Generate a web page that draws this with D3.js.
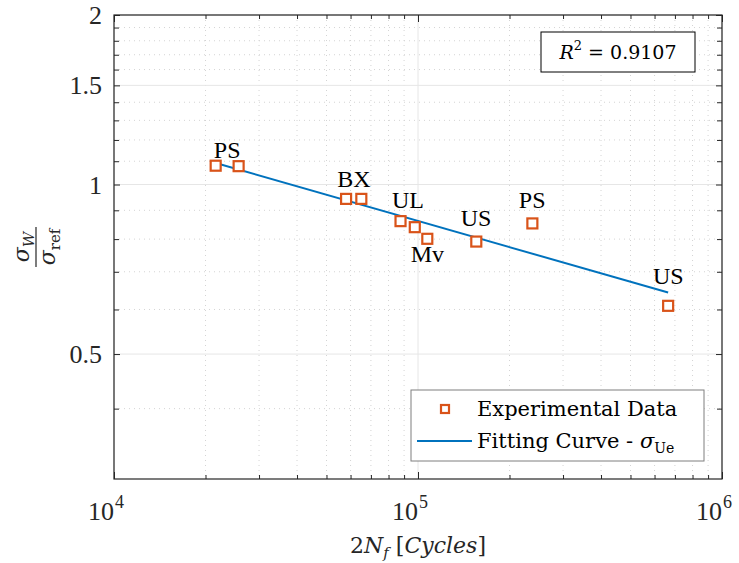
<!DOCTYPE html>
<html>
<head>
<meta charset="utf-8">
<script src="https://cdn.jsdelivr.net/npm/d3@7"></script>
<style>
  body { margin: 0; background: #fff; }
  svg { display: block; }
  text { font-family: "Liberation Serif", serif; fill: #262626; }
  .math { font-family: "DejaVu Serif", serif; }
</style>
</head>
<body>
<svg id="chart"></svg>
<script>
// experimental points
const cycles = [21600, 25700, 58000, 65100, 87600, 97600, 107300, 155500, 237800, 665000];
const ratio = [1.080, 1.078, 0.943, 0.943, 0.861, 0.840, 0.801, 0.792, 0.853, 0.609];

// fitted power law, read at its two ends
const fitCycles = [21600, 665000];
const fitRatio = [1.092, 0.643];

// point annotations
const noteText = ["PS", "BX", "UL", "Mv", "US", "PS", "US"];
const noteCycles = [23570, 61500, 92700, 107400, 155300, 237500, 666000];
const noteRatio = [1.116, 0.988, 0.910, 0.728, 0.843, 0.907, 0.665];

// ticks
const xMajor = [1e4, 1e5, 1e6];
const xMajorExp = ["4", "5", "6"];
const xMinor = [2e4, 3e4, 4e4, 5e4, 6e4, 7e4, 8e4, 9e4, 2e5, 3e5, 4e5, 5e5, 6e5, 7e5, 8e5, 9e5];
const yMajor = [0.5, 1, 1.5, 2];
const yMajorLabels = ["0.5", "1", "1.5", "2"];
const yMinor = [0.4, 0.6, 0.7, 0.8, 0.9, 1.1, 1.2, 1.3, 1.4, 1.6, 1.7, 1.8, 1.9];

const rSquared = "0.9107";

const W = 739, H = 563;
const margin = { top: 15, right: 17, bottom: 84, left: 114 };
const width = W - margin.left - margin.right;
const height = H - margin.top - margin.bottom;

const svg = d3.select("#chart").attr("width", W).attr("height", H);
const g = svg.append("g").attr("transform", `translate(${margin.left},${margin.top})`);

const x = d3.scaleLog().domain([1e4, 1e6]).range([0, width]);
const y = d3.scaleLog().domain([0.3, 2]).range([height, 0]);

// grid - minor dotted first, then major solid
g.append("g").selectAll("line").data(xMinor).join("line")
  .attr("x1", d => x(d)).attr("x2", d => x(d)).attr("y1", 0).attr("y2", height)
  .attr("stroke", "#d4d4d4").attr("stroke-dasharray", "1,4");
g.append("g").selectAll("line").data(yMinor).join("line")
  .attr("y1", d => y(d)).attr("y2", d => y(d)).attr("x1", 0).attr("x2", width)
  .attr("stroke", "#d4d4d4").attr("stroke-dasharray", "1,4");
g.append("g").selectAll("line").data(xMajor).join("line")
  .attr("x1", d => x(d)).attr("x2", d => x(d)).attr("y1", 0).attr("y2", height)
  .attr("stroke", "#e6e6e6");
g.append("g").selectAll("line").data(yMajor).join("line")
  .attr("y1", d => y(d)).attr("y2", d => y(d)).attr("x1", 0).attr("x2", width)
  .attr("stroke", "#e6e6e6");

// axes with inward ticks on all sides
const axisCol = "#262626";
function ticks(axis, vals, size) {
  return axis.tickValues(vals).tickSize(size).tickFormat("");
}
const xAxes = [
  [d3.axisTop, height, xMajor, 7], [d3.axisTop, height, xMinor, 4],
  [d3.axisBottom, 0, xMajor, 7], [d3.axisBottom, 0, xMinor, 4]
];
xAxes.forEach(([fn, ty, vals, s]) => {
  g.append("g").attr("transform", `translate(0,${ty})`).call(ticks(fn(x), vals, s));
});
const yAxes = [
  [d3.axisRight, 0, yMajor, 6], [d3.axisRight, 0, yMinor, 5],
  [d3.axisLeft, width, yMajor, 6], [d3.axisLeft, width, yMinor, 5]
];
yAxes.forEach(([fn, tx, vals, s]) => {
  g.append("g").attr("transform", `translate(${tx},0)`).call(ticks(fn(y), vals, s));
});
g.selectAll(".domain").remove();
g.selectAll(".tick line").attr("stroke", axisCol).attr("stroke-width", 1);
g.append("rect").attr("width", width).attr("height", height)
  .attr("fill", "none").attr("stroke", axisCol).attr("stroke-width", 1.2);

// tick labels
g.append("g").selectAll("text").data(yMajor).join("text")
  .attr("x", -12).attr("y", d => y(d)).attr("dy", "0.35em")
  .attr("text-anchor", "end").style("font-size", "26px")
  .text((d, i) => yMajorLabels[i]);

const xl = g.append("g").selectAll("text").data(xMajor).join("text")
  .attr("x", d => x(d) - 8).attr("y", height + 41)
  .attr("text-anchor", "middle").style("font-size", "26px");
xl.append("tspan").text("10");
xl.append("tspan").attr("dy", -12).attr("dx", 1).style("font-size", "18px")
  .text((d, i) => xMajorExp[i]);

// fitting line
g.append("path")
  .datum(fitCycles.map((c, i) => [c, fitRatio[i]]))
  .attr("d", d3.line().x(d => x(d[0])).y(d => y(d[1])))
  .attr("fill", "none").attr("stroke", "#0072BD").attr("stroke-width", 2);

// points
const ms = 10;
g.append("g").selectAll("rect").data(cycles).join("rect")
  .attr("x", d => x(d) - ms / 2).attr("y", (d, i) => y(ratio[i]) - ms / 2)
  .attr("width", ms).attr("height", ms)
  .attr("fill", "white").attr("stroke", "#D95319").attr("stroke-width", 2.2);

// annotations
g.append("g").selectAll("text").data(noteText).join("text")
  .attr("x", (d, i) => x(noteCycles[i])).attr("y", (d, i) => y(noteRatio[i]))
  .attr("text-anchor", "middle").style("font-size", "24px").style("fill", "#000")
  .text(d => d);

// R^2 box
const rb = g.append("g").attr("transform", `translate(${541 - margin.left},${32 - margin.top})`);
rb.append("rect").attr("width", 154).attr("height", 40)
  .attr("fill", "white").attr("stroke", "#000").attr("stroke-width", 1);
const rt = rb.append("text").attr("class", "math").attr("x", 77).attr("y", 27)
  .attr("text-anchor", "middle").style("font-size", "19px").style("fill", "#000");
rt.append("tspan").style("font-style", "italic").text("R");
rt.append("tspan").attr("dy", -9).style("font-size", "13px").text("2");
rt.append("tspan").attr("dy", 9).text(" = " + rSquared);

// legend
const lg = g.append("g").attr("transform", `translate(${411 - margin.left},${390 - margin.top})`);
lg.append("rect").attr("width", 293).attr("height", 71)
  .attr("fill", "white").attr("stroke", "#7f7f7f").attr("stroke-width", 1);
lg.append("rect").attr("x", 34 - 4).attr("y", 19 - 4).attr("width", 8).attr("height", 8)
  .attr("fill", "white").attr("stroke", "#D95319").attr("stroke-width", 2.2);
lg.append("text").attr("class", "math").attr("x", 66).attr("y", 26)
  .style("font-size", "21px").style("fill", "#000")
  .text("Experimental Data");
lg.append("line").attr("x1", 6).attr("x2", 61).attr("y1", 51).attr("y2", 51)
  .attr("stroke", "#0072BD").attr("stroke-width", 2);
const lt = lg.append("text").attr("class", "math").attr("x", 66).attr("y", 58)
  .style("font-size", "21px").style("fill", "#000");
lt.append("tspan").text("Fitting Curve - ");
lt.append("tspan").style("font-style", "italic").text("σ");
lt.append("tspan").attr("dy", 5).style("font-size", "14px").text("Ue");

// x label
const xt = svg.append("text").attr("class", "math").attr("x", 418).attr("y", 553)
  .attr("text-anchor", "middle").style("font-size", "22px").style("font-style", "italic");
xt.append("tspan").style("font-style", "normal").text("2");
xt.append("tspan").text("N");
xt.append("tspan").attr("dy", 5).style("font-size", "15px").text("f");
xt.append("tspan").attr("dy", -5).text(" ");
xt.append("tspan").style("font-style", "normal").text("[");
xt.append("tspan").text("Cycles");
xt.append("tspan").style("font-style", "normal").text("]");

// y label as a fraction, rotated
const yl = svg.append("g").attr("transform", "translate(36,247) rotate(-90)");
yl.append("line").attr("x1", -20).attr("x2", 20).attr("y1", 0).attr("y2", 0)
  .attr("stroke", "#262626").attr("stroke-width", 1.2);
const num = yl.append("text").attr("class", "math").attr("x", 0).attr("y", -7)
  .attr("text-anchor", "middle").style("font-size", "22px");
num.append("tspan").style("font-style", "italic").text("σ");
num.append("tspan").attr("dy", 5).style("font-size", "15px").style("font-style", "italic").text("W");
const den = yl.append("text").attr("class", "math").attr("x", 0).attr("y", 19)
  .attr("text-anchor", "middle").style("font-size", "22px");
den.append("tspan").style("font-style", "italic").text("σ");
den.append("tspan").attr("dy", 5).style("font-size", "15px").text("ref");
</script>
</body>
</html>
